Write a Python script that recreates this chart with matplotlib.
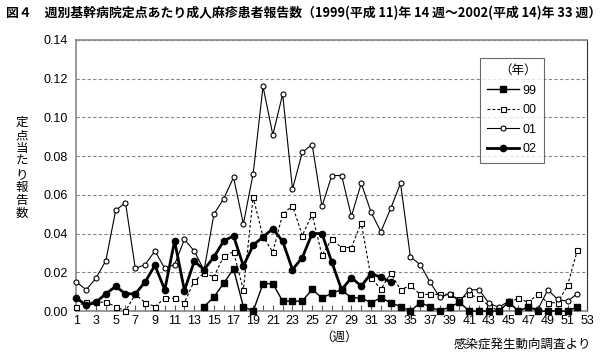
import numpy as np
import matplotlib
matplotlib.use("Agg")
import matplotlib.pyplot as plt

plt.rcParams['font.family'] = ['Liberation Sans', 'Noto Sans CJK JP', 'DejaVu Sans']

nan = np.nan
weeks = list(range(1, 53))

# 1999 (from week 14)
y99 = [nan] * 13 + [0.0023, 0.0072, 0.0144, 0.0217, 0.0023, 0.0, 0.0141, 0.0141, 0.0051, 0.0051,
                    0.0051, 0.0112, 0.0068, 0.0092, 0.011, 0.0068, 0.0068, 0.0043, 0.0068, 0.0043,
                    0.0023, 0.0, 0.0043, 0.0023, 0.0, 0.0021, 0.0045, 0.0, 0.0, 0.0,
                    0.0, 0.0045, 0.0, 0.0021, 0.0, 0.0, 0.0, 0.0, 0.0021]
y00 = [0.0023, 0.0046, 0.0045, 0.0046, 0.0023, 0.0, 0.0086, 0.0044, 0.0023, 0.0066,
       0.0066, 0.0044, 0.0155, 0.0196, 0.0177, 0.0283, 0.0306, 0.011, 0.0588, 0.0383,
       0.0305, 0.050, 0.0544, 0.039, 0.050, 0.0288, 0.037, 0.0328, 0.0328, 0.0456,
       0.0172, 0.0112, 0.0196, 0.011, 0.0132, 0.0086, 0.0086, 0.0086, 0.0087, 0.006,
       0.0087, 0.0066, 0.0028, 0.0, 0.0043, 0.0066, 0.0045, 0.0087, 0.0043, 0.0043,
       0.0132, 0.0314]
y01 = [0.015, 0.011, 0.017, 0.026, 0.052, 0.056, 0.022, 0.024, 0.031, 0.022,
       0.024, 0.037, 0.031, 0.021, 0.050, 0.058, 0.069, 0.045, 0.071, 0.116,
       0.091, 0.112, 0.063, 0.082, 0.086, 0.054, 0.070, 0.070, 0.049, 0.066,
       0.051, 0.041, 0.053, 0.066, 0.028, 0.024, 0.015, 0.007, 0.009, 0.005,
       0.011, 0.011, 0.004, 0.002, 0.005, 0.0, 0.002, 0.001, 0.011, 0.006,
       0.005, 0.009]
y02 = [0.0068, 0.0029, 0.0046, 0.0089, 0.0127, 0.0089, 0.0089, 0.015, 0.0236, 0.011,
       0.0362, 0.0106, 0.0257, 0.0214, 0.0279, 0.0362, 0.0388, 0.0233, 0.034, 0.0383,
       0.0425, 0.036, 0.0214, 0.0276, 0.040, 0.040, 0.0253, 0.011, 0.0172, 0.0129,
       0.0193, 0.0175, 0.015] + [nan] * 19

fig = plt.figure(figsize=(6.11, 3.6), dpi=100)
ax = fig.add_axes([0.125, 0.136, 0.836, 0.753])

ax.plot(weeks, y99, color='black', lw=1.0, marker='s', ms=4.5, mfc='black', mec='black',
        label='99', clip_on=False, zorder=4)
ax.plot(weeks, y00, color='black', lw=0.8, ls=(0, (2.5, 2)), marker='s', ms=3.6, mfc='white',
        mec='black', mew=0.8, label='00', clip_on=False, zorder=3)
ax.plot(weeks, y01, color='black', lw=0.8, marker='o', ms=3.6, mfc='white', mec='black',
        mew=0.8, label='01', clip_on=False, zorder=3)
ax.plot(weeks, y02, color='black', lw=2.0, marker='o', ms=4.5, mfc='black', mec='black',
        label='02', clip_on=False, zorder=5)

ax.set_xlim(1, 53)
ax.set_ylim(0, 0.14)
ax.set_yticks(np.arange(0, 0.141, 0.02))
ax.set_yticklabels([f'{v:.2f}' for v in np.arange(0, 0.141, 0.02)])
ax.set_xticks(range(1, 54))
ax.set_xticklabels([str(w) if w % 2 == 1 else '' for w in range(1, 54)])
ax.tick_params(axis='x', direction='in', length=4, width=0.8, color='#555555',
               labelsize=9, pad=3)
ax.tick_params(axis='y', length=0, labelsize=9, pad=6)
ax.grid(axis='y', ls=(0, (3, 2)), color='#888888', lw=0.8)
ax.set_axisbelow(True)
for side in ['left', 'top', 'bottom']:
    ax.spines[side].set_color('#888888')
    ax.spines[side].set_linewidth(1.2)
ax.spines['right'].set_color('#333333')
ax.spines['right'].set_linewidth(0.8)

leg = ax.legend(title='（年）', loc='upper left', bbox_to_anchor=(0.79, 0.935),
                frameon=True, fancybox=False, edgecolor='#444444', fontsize=9,
                title_fontsize=9, handlelength=2.5, handletextpad=0.3,
                labelspacing=0.6, borderpad=0.6, borderaxespad=0, alignment='right')
leg.get_frame().set_linewidth(0.8)

fig.text(0.010, 0.965,
         '図４　週別基幹病院定点あたり成人麻疹患者報告数（1999(平成 11)年 14 週～2002(平成 14)年 33 週）',
         family=['Noto Sans CJK JP', 'DejaVu Sans'], fontweight='bold', fontsize=9.25,
         va='center', ha='left')
fig.text(0.036, 0.533, '\n'.join('定点当たり報告数'), family=['Noto Sans CJK JP'],
         fontsize=9, va='center', ha='center', linespacing=1.0)
fig.text(0.555, 0.063, '（週）', family=['Noto Sans CJK JP'], fontsize=9,
         va='center', ha='center')
fig.text(0.968, 0.044, '感染症発生動向調査より', family=['Noto Sans CJK JP'], fontsize=9,
         va='center', ha='right')

fig.savefig('out.png', dpi=100)
